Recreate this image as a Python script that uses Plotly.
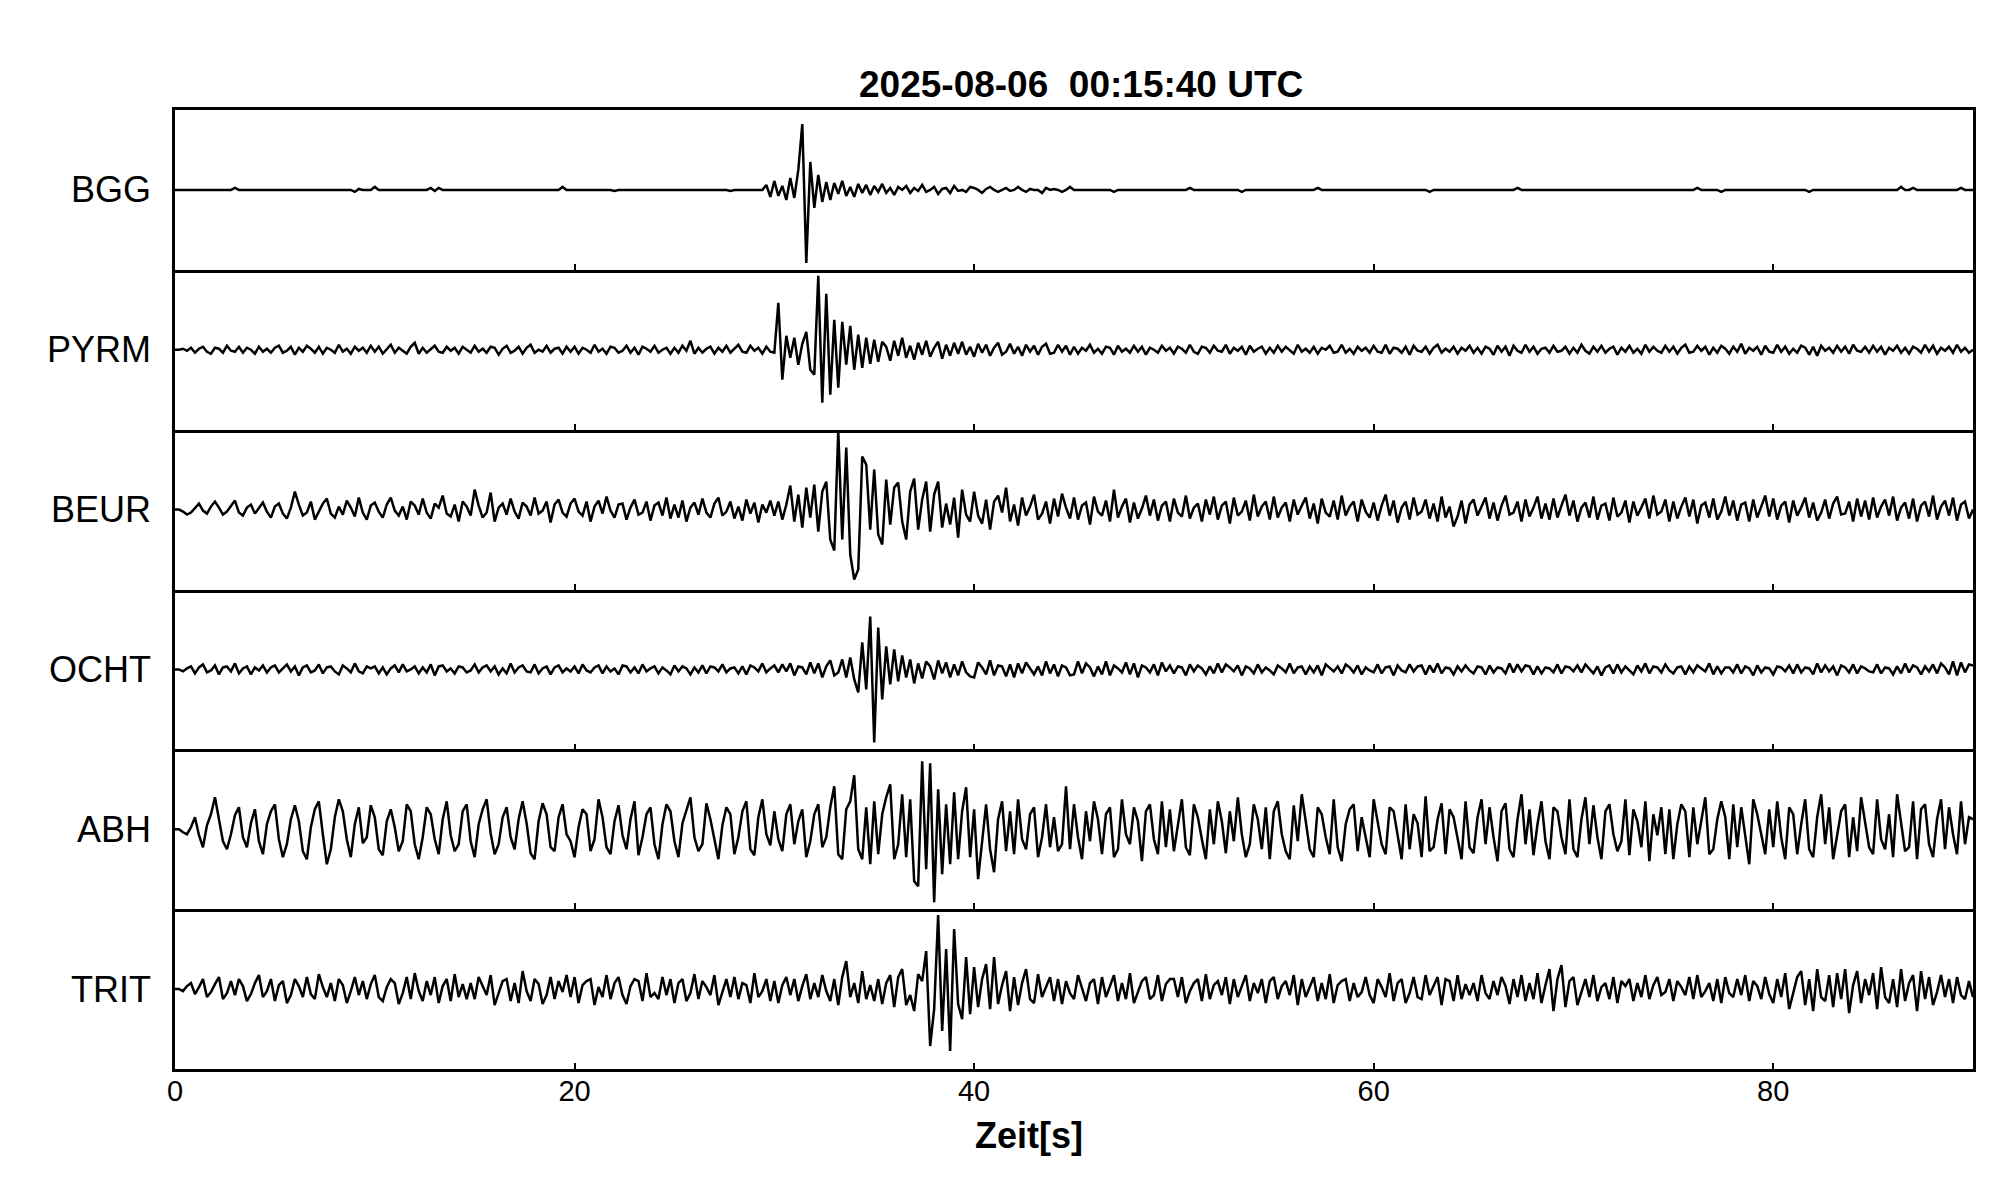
import plotly.graph_objects as go
from plotly.subplots import make_subplots

TITLE = "2025-08-06  00:15:40 UTC"
X_TITLE = "Zeit[s]"
STATIONS = ["BGG", "PYRM", "BEUR", "OCHT", "ABH", "TRIT"]
X_TICKS = [0, 20, 40, 60, 80]
DT = 0.2          # seconds between samples
ROW_SPAN = 5.0    # seconds covered by one row of samples

# amplitudes in display units (panel half-height = 80); one row = 5 s
BGG = [
    [0, 0, 0, 0, 0,  0, 0, 0, 0, 0,  0, 0, 0, 0, 0,  2, 0, 0, 0, 0,  0, 0, 0, 0, 0],
    [0, 0, 0, 0, 0,  0, 0, 0, 0, 0,  0, 0, 0, 0, 0,  0, 0, 0, 0, 0,  -2, 1, 0, 0, 0],
    [3, 0, 0, 0, 0,  0, 0, 0, 0, 0,  0, 0, 0, 0, 2,  -1, 2, 0, 0, 0,  0, 0, 0, 0, 0],
    [0, 0, 0, 0, 0,  0, 0, 0, 0, 0,  0, 0, 0, 0, 0,  0, 0, 0, 0, 0,  0, 0, 3, 0, 0],
    [0, 0, 0, 0, 0,  0, 0, 0, 0, 0,  -1, 0, 0, 0, 0,  0, 0, 0, 0, 0,  0, 0, 0, 0, 0],
    [0, 0, 0, 0, 0,  0, 0, 0, 0, 0,  0, 0, 0, 0, -1,  0, 0, 0, 0, 0,  0, 0, 0, 5, -7],
    [9, -6, 4, -10, 12,  -8, 20, 66, -73, 28,  -18, 15, -12, 8, -10,  7, -4, 9, -6, 3,  -7, 6, -3, 5, -5],
    [4, -2, 6, -3, 2,  -5, 3, 0, 4, -3,  2, -1, 5, -2, 0,  3, -4, 1, 2, -3,  4, -1, 0, -2, 3],
    [2, 0, -3, 1, 3,  0, -2, 0, 2, -1,  0, 3, 0, -2, 1,  0, 0, -3, 2, 0,  1, 0, -2, 0, 3],
    [0, 0, 0, 0, 0,  0, 0, 0, 0, 0,  -2, 0, 0, 0, 0,  0, 0, 0, 0, 0,  0, 0, 0, 0, 0],
    [0, 0, 0, 0, 2,  0, 0, 0, 0, 0,  0, 0, 0, 0, 0,  0, 0, -2, 0, 0,  0, 0, 0, 0, 0],
    [0, 0, 0, 0, 0,  0, 0, 0, 0, 0,  0, 2, 0, 0, 0,  0, 0, 0, 0, 0,  0, 0, 0, 0, 0],
    [0, 0, 0, 0, 0,  0, 0, 0, 0, 0,  0, 0, 0, 0, -2,  0, 0, 0, 0, 0,  0, 0, 0, 0, 0],
    [0, 0, 0, 0, 0,  0, 0, 0, 0, 0,  0, 2, 0, 0, 0,  0, 0, 0, 0, 0,  0, 0, 0, 0, 0],
    [0, 0, 0, 0, 0,  0, 0, 0, 0, 0,  0, 0, 0, 0, 0,  0, 0, 0, 0, 0,  0, 0, 0, 0, 0],
    [0, 0, 0, 0, 0,  0, 2, 0, 0, 0,  0, 0, -2, 0, 0,  0, 0, 0, 0, 0,  0, 0, 0, 0, 0],
    [0, 0, 0, 0, 0,  0, 0, 0, 0, -2,  0, 0, 0, 0, 0,  0, 0, 0, 0, 0,  0, 0, 0, 0, 0],
    [0, 0, 0, 0, 0,  0, 0, 3, 0, 0,  2, 0, 0, 0, 0,  0, 0, 0, 0, 0,  0, 0, 2, 0, 0],
    [0],
]

PYRM = [
    [0, 0, 1, -1, 2,  -3, 1, 3, -2, -4,  2, 1, -3, 4, -1,  -2, 3, -3, 2, 0,  -4, 3, -2, 1, -3],
    [2, 4, -3, -1, 3,  -5, 2, -2, 4, 1,  -3, 3, -4, 2, 0,  -3, 5, -2, 1, -4,  3, -1, 2, -3, 4],
    [-2, 3, -4, 1, 5,  -3, 2, -1, -4, 3,  7, -4, 2, -3, 1,  4, -2, -3, 3, -1,  2, -4, 3, 0, -3],
    [4, -2, 1, -3, 3,  2, -5, 1, 4, -3,  -1, 3, -4, 2, 5,  -3, 0, -2, 4, -3,  1, 2, -4, 3, -2],
    [3, -4, 2, 0, -3,  5, -2, 1, -4, 3,  2, -3, -1, 4, -3,  2, -5, 3, 1, -2,  4, -3, 0, 2, -4],
    [2, -3, 4, -1, 9,  -4, 2, -3, 1, 3,  -4, 2, -2, 4, -3,  1, 5, -2, -3, 4,  -1, 2, -4, 3, -2],
    [-3, 47, -30, 14, -8,  12, -15, 6, 18, -20,  -25, 74, -53, 56, -45,  30, -38, 28, -15, 24,  -20, 15, -18, 12, -14],
    [10, -12, 8, 3, -11,  9, -6, 12, -8, 4,  -10, 7, -5, 9, -7,  2, 8, -9, 5, -6,  7, -4, 8, -5, 3],
    [-7, 6, -3, 5, -6,  2, 7, -5, -2, 6,  -4, 3, -6, 5, -2,  4, -5, 3, 6, -4,  -3, 5, -2, 4, -5],
    [3, -4, 2, -1, 5,  -3, 1, -4, 3, 2,  -5, 4, -2, 1, -3,  4, -2, 3, -5, 2,  0, -3, 4, -1, 2],
    [-4, 3, 1, -3, 5,  -2, -4, 3, 2, -3,  4, -1, -2, 5, -4,  2, -1, 3, -5, 4,  -2, 1, 3, -4, 2],
    [-3, 4, -2, 3, -1,  -4, 5, -2, 1, -3,  3, -4, 2, 0, 4,  -3, -2, 5, -3, 1,  -4, 3, -1, 2, -3],
    [4, -2, -3, 5, -4,  2, 1, -3, 3, -5,  4, -1, -2, 3, -4,  2, 5, -3, 1, -2,  3, -4, 2, -1, 4],
    [-3, 2, -4, 3, 1,  -5, 4, -2, 3, -6,  4, -1, -3, 5, -2,  3, -4, 1, 2, -3,  4, -2, -1, 3, -4],
    [2, -3, 5, -1, -4,  3, -2, 4, -3, 1,  3, -5, 2, -2, 4,  -3, 1, -4, 5, -2,  3, -1, -3, 4, -2],
    [3, -4, 2, 5, -3,  -2, 4, -1, 3, -5,  2, -3, 4, 1, -4,  3, -2, 6, -4, 2,  -1, 3, -5, 4, -2],
    [-3, 5, -2, 3, -4,  1, -3, 4, 2, -5,  3, -6, 4, -1, 2,  -3, 4, -2, 3, -4,  5, -1, -2, 3, -3],
    [4, -2, 3, -5, 2,  -1, 4, -3, 2, -4,  3, 1, -3, 5, -2,  4, -4, 2, -1, 3,  -3, 5, -2, 2, -3],
    [0],
]

BEUR = [
    [0, 0, -2, -5, -3,  2, 6, -1, -4, 3,  8, 2, -5, -2, 4,  9, -3, -6, 2, 5,  -4, 1, 7, -2, -8],
    [3, 6, -4, -9, 2,  18, 5, -6, -3, 8,  -10, -2, 6, 11, -4,  -8, 3, -5, 9, 2,  -7, 12, -3, -10, 4],
    [7, -2, -8, 5, 12,  -1, -6, 3, -10, 8,  4, -5, 11, -3, -9,  6, 2, 14, -4, -7,  5, -12, 8, 3, -6],
    [20, 4, -8, -3, 17,  -12, 2, 6, -5, 11,  -2, -9, 7, 3, -6,  12, -4, -1, 8, -13,  5, 10, -3, -7, 6],
    [11, -2, -6, 8, -12,  3, 9, -4, 13, -1,  -8, 5, 6, -10, 2,  10, -5, -3, 8, -11,  4, 7, -6, 12, -9],
    [5, -8, 9, -12, 2,  7, -5, 11, -3, -8,  6, 12, -6, -2, 8,  -9, 3, -11, 10, -4,  7, -13, 5, -3, 9],
    [-6, 8, -10, 5, 24,  -12, 15, -18, 22, -8,  25, -22, 18, 28, -30,  -41, 79, -30, 62, -45,  -70, -60, 53, 45, -20],
    [40, -25, -35, 30, -15,  22, 27, -12, -30, 18,  31, -20, 10, 28, -22,  15, 28, -18, 6, -15,  12, -28, 20, -5, -12],
    [18, -6, -14, 10, -20,  8, 14, -3, 22, -12,  5, -16, 12, -6, 3,  15, -10, -4, 8, -14,  11, -7, 16, 2, -9],
    [12, -10, 4, 7, -15,  13, -2, -6, 9, -12,  20, -8, 3, 11, -13,  7, -9, 1, 14, -6,  10, -11, 4, 8, -12],
    [11, -3, -7, 14, -9,  2, 6, -12, 10, -5,  13, -10, 4, 8, -14,  12, -6, -2, 9, -11,  15, -7, 3, 8, -10],
    [13, -8, 2, 7, -12,  10, -5, 4, 12, -9,  6, -14, 11, -3, -7,  9, -10, 14, -6, 3,  8, -12, 10, -2, -8],
    [7, -11, 4, 15, -6,  9, -13, 2, 8, -10,  12, -5, -2, 10, -9,  6, -12, 13, -8, 3,  -17, -7, 9, -14, 5],
    [10, -6, 3, 12, -9,  7, -11, 4, 14, -5,  -3, 8, -12, 10, -7,  2, 13, -9, 6, -10,  11, -8, 4, 15, -6],
    [9, -12, 2, 7, -8,  13, -10, 4, 6, -11,  12, -7, -3, 9, -13,  8, -6, 2, 11, -9,  14, -5, -2, 10, -12],
    [8, -9, 3, 12, -7,  10, -14, 4, 7, -8,  11, -10, -2, 13, -6,  9, -11, 5, 7, -12,  10, -8, 3, 14, -7],
    [11, -10, 4, 8, -13,  9, -6, 2, 12, -8,  7, -11, -3, 10, -9,  6, 13, -5, -4, 8,  -12, 11, -7, 9, -10],
    [12, -8, 3, 10, -6,  13, -11, 2, 7, -9,  11, -12, 4, 8, -7,  14, -10, 3, 9, -6,  12, -11, 5, 8, -9],
    [0],
]

OCHT = [
    [0, 0, -2, 1, 3,  -4, 2, 5, -3, -1,  4, -5, 2, 3, -2,  6, -4, 1, 3, -5,  2, -1, 4, -3, 2],
    [4, -3, 1, 5, -2,  3, -6, 2, 4, -3,  -1, 5, -4, 2, 3,  -2, -5, 4, 1, -3,  6, -2, -4, 3, 1],
    [3, -4, 2, -5, 1,  4, -3, 5, -2, 0,  3, -4, 2, -3, 5,  -6, 3, 4, -2, 1,  -4, 3, 2, -3, -1],
    [5, -3, 2, 4, -2,  3, -5, 1, -4, 6,  -3, 2, 4, -2, -3,  5, -4, 1, 3, -5,  2, 4, -3, 1, -2],
    [3, -4, 5, -1, -3,  2, 4, -4, 3, -2,  1, -5, 4, 3, -3,  2, -4, 5, -2, 1,  3, -4, 2, -1, -5],
    [4, -2, 3, 1, -5,  2, -3, 4, -4, 3,  2, -2, 5, -3, 1,  2, -4, 3, -5, 4,  2, -2, 6, -3, 1],
    [4, -3, 5, -2, 6,  -6, 3, 2, -5, 7,  -4, 6, -8, 3, 9,  -6, -3, 10, -8, 12,  -10, -23, 27, -20, 53],
    [-73, 42, -30, 23, -15,  20, -12, 14, -8, 10,  -14, 6, -9, 8, 3,  -10, 9, -4, 7, -8,  5, -6, 8, -3, -7],
    [-8, 7, 2, -5, 9,  -6, 4, 3, -7, 5,  -8, 6, -4, 7, 1,  -5, 3, -6, 8, -4,  5, -7, 4, 2, -6],
    [-5, 8, -4, 6, 2,  -7, 3, -5, 8, -6,  4, 1, -3, 7, -5,  6, -8, 4, 2, -3,  5, -6, 7, -2, 4],
    [-4, 3, 2, -6, 5,  -2, 4, 1, -5, 3,  -4, 6, -3, 5, 2,  -2, 4, -6, 3, 1,  -4, 5, -3, 2, -1],
    [-5, 4, 1, -3, 6,  -4, 2, 3, -5, 3,  -3, 4, -6, 5, 1,  -2, 3, -4, 5, 2,  -3, 4, -5, 2, -1],
    [-3, 5, -4, 2, 3,  -6, 4, -1, -3, 5,  -2, 3, 4, -5, 4,  -3, 6, -4, 2, 1,  -5, 3, -2, 4, -1],
    [-4, 3, 2, -5, 4,  -3, 2, 1, -4, 6,  -3, 5, -2, 4, 3,  -5, 3, -4, 2, 1,  -3, 5, -4, 3, 2],
    [-2, 4, -3, 5, 1,  -4, 3, -6, 2, 4,  -4, 5, -3, 3, -1,  -5, 4, -2, 6, -4,  3, 2, -3, 5, -1],
    [-4, 2, 3, -5, 3,  -3, 4, 1, -2, 6,  -5, 3, -4, 2, 2,  -3, 5, -4, 3, 1,  -6, 4, -3, 2, 1],
    [-5, 3, 2, -2, 4,  -4, 5, -3, 2, 1,  -5, 6, -3, 4, -2,  3, -6, 4, 2, -3,  5, -4, 3, 1, -2],
    [-3, 5, -4, 2, 1,  -5, 3, -4, 6, -3,  4, 2, -5, 3, -2,  5, -4, 6, 2, -5,  8, -6, 7, -3, 5],
    [4],
]

ABH = [
    [0, 0, -3, -5, 2,  12, -6, -18, 4, 15,  32, 8, -12, -20, -5,  14, 22, -8, -18, 6,  20, -12, -25, 5, 18],
    [25, -10, -28, -15, 10,  24, 8, -22, -30, 2,  20, 28, -5, -35, -20,  12, 30, 18, -10, -28,  5, 22, -14, -8, 24],
    [12, -20, -26, 8, 20,  2, -22, -12, 25, 18,  -15, -30, -8, 22, 15,  -10, -25, 10, 28, -6,  -22, -15, 18, 25, -12],
    [-28, 5, 20, 30, -4,  -25, -15, 12, 22, -8,  -20, 10, 28, 6, -24,  -30, 8, 26, 15, -18,  -22, 12, 25, -5, -12],
    [-28, 2, 20, 15, -22,  -10, 30, 12, -18, -25,  8, 24, -6, -20, 10,  28, -26, -8, 15, 22,  -15, -30, 5, 25, 18],
    [-12, -28, 6, 20, 32,  -8, -22, -15, 26, 10,  -10, -30, 4, 22, 15,  -25, -8, 18, 28, -20,  -26, 12, 30, -5, -16],
    [18, -10, -22, 15, 25,  -15, 8, 20, -28, -12,  15, 25, -18, -8, 22,  43, -25, -30, 20, 28,  54, -20, -30, 22, -35],
    [28, -25, 15, 32, 45,  -30, -15, 35, -28, 30,  -52, -57, 68, -40, 66,  -73, 40, -45, 25, -35,  37, -30, 18, 42, -28],
    [20, -50, -15, 25, -20,  -43, 10, 28, -22, 18,  -25, 30, -10, -20, 15,  22, -28, -8, 25, -18,  12, -22, -15, 43, -20],
    [25, -8, -30, 18, -12,  28, 10, -25, 15, 22,  -28, -20, 30, -5, -15,  22, 8, -32, 18, 25,  -10, -25, 28, -18, 20],
    [-22, 5, 30, -18, -26,  25, 12, -10, -30, 20,  -15, 28, 8, -24, 18,  -12, 32, -5, -28, -15,  25, 10, -20, 22, -30],
    [18, 28, -5, -22, -30,  24, -12, 35, 8, -20,  -28, 22, 15, -8, -25,  30, -18, -32, 5, 20,  25, -22, 12, -10, -28],
    [30, 8, -15, -25, 22,  18, -8, -30, 25, -20,  15, 6, -28, 33, -22,  -18, 10, 26, -25, 20,  12, -10, -30, 28, -18],
    [-24, 12, 30, -15, 22,  -8, -32, 18, 26, -20,  -28, 10, 35, -15, 20,  -26, 5, 28, -12, -30,  22, 18, -8, -25, 30],
    [-20, -28, 10, 32, -15,  24, -8, -30, 18, 25,  -5, -22, -12, 30, -26,  20, 8, -18, 28, -32,  15, -6, 22, -25, 20],
    [-30, 5, 25, 18, -28,  22, -15, 8, 32, -25,  -20, 10, 28, 12, -30,  25, -18, 22, -8, -35,  30, 15, -5, -25, 20],
    [-18, 28, -8, -30, 22,  15, -25, 5, 30, -20,  -28, 12, 35, -15, 22,  -30, -5, 18, 25, -28,  12, -22, 32, 8, -18],
    [-25, 30, -10, -20, 15,  -28, 35, 8, -22, -18,  28, -30, 20, 25, -15,  -28, 10, 30, -20, 22,  -5, -25, 28, -15, 12],
    [10],
]

TRIT = [
    [0, 0, -2, 3, 6,  -5, 2, 10, -8, -3,  5, 12, -10, -4, 8,  -6, 10, 3, -12, -5,  6, 14, -8, -2, 10],
    [-12, 4, 8, -14, -6,  10, 3, -8, 12, -5,  -10, 15, 2, -8, 6,  -12, 10, 4, -14, -2,  12, -6, 8, -10, 5],
    [14, -8, -12, 2, 10,  6, -15, -4, 12, -10,  16, -2, -12, 8, -6,  12, -14, 3, 10, -12,  15, -8, 5, -10, 6],
    [-10, 12, 2, -6, 14,  -16, -4, 8, 10, -12,  6, -14, 18, -2, -12,  10, 5, -15, -6, 12,  -10, 8, -3, 14, -8],
    [12, -14, 4, 8, 10,  -16, 2, -8, 14, -10,  6, 12, -6, -15, 3,  10, 8, -12, 16, -8,  -4, -10, 12, -6, 10],
    [-14, 6, 10, -12, -4,  15, -10, 8, 2, -6,  14, -16, -3, 10, -8,  12, -10, 6, 4, -14,  16, -8, -2, 10, -12],
    [8, -14, 4, 12, -6,  10, -12, 3, 15, -10,  6, -8, 14, -2, -12,  10, -16, 12, 28, -8,  6, -14, 18, -10, 4],
    [-12, 10, -15, 6, 14,  -18, 12, 20, -16, -6,  -22, 15, 8, 38, -57,  -20, 74, -42, 40, -62,  60, -15, -30, 32, -25],
    [22, -18, 10, 25, -20,  32, -15, 4, 18, -22,  12, -16, 6, 20, -10,  -14, 15, -8, 3, 12,  -12, 10, -15, 8, -4],
    [-10, 14, 2, -12, 6,  10, -15, 12, -8, 3,  14, -12, 6, -10, 16,  -14, -2, 8, 12, -10,  -6, 14, -12, 5, 10],
    [10, -8, 12, -14, -2,  6, 10, -12, 15, -10,  4, 8, -6, 12, -15,  10, -8, 3, 14, -12,  6, -4, 10, -14, 8],
    [12, -10, 3, 8, -6,  14, -16, 10, -8, 2,  12, -12, 6, -10, 15,  -14, 4, 8, 10, -12,  6, -8, -3, 12, -6],
    [-14, 10, 2, -8, 16,  -12, 6, 10, -14, -4,  12, -8, -10, 14, -6,  3, 12, -16, 10, 8,  -12, 14, -10, 5, -6],
    [6, -12, 14, -4, -10,  8, -6, 12, 3, -15,  10, -8, 14, -12, 6,  -10, 16, -14, 4, 20,  -22, 10, 24, -18, 8],
    [12, -16, -4, 10, -8,  14, -12, 2, 6, -10,  12, -14, 8, 3, 10,  -12, 6, -8, 14, -10,  4, 12, -6, -3, 10],
    [-12, 8, 2, -6, 12,  -10, 14, -8, -2, 6,  -12, 10, -14, 12, -4,  -8, 10, -6, 14, -12,  8, 3, -10, 12, -5],
    [-14, 10, -8, 16, -20,  -4, 12, 18, -16, 10,  -22, 20, -8, -12, 14,  -18, 16, -10, 20, -24,  4, 18, -14, 10, -6],
    [16, -20, 22, -8, -14,  10, -18, 20, -12, 6,  14, -22, 18, -10, 12,  -16, -3, 14, -8, 10,  -14, 12, -6, -10, 8],
    [-8],
]

TRACES = [BGG, PYRM, BEUR, OCHT, ABH, TRIT]

FONT = "Liberation Sans, Arial, Helvetica, sans-serif"
N = len(STATIONS)


def unroll(rows):
    """Attach a sample time to every value: row r starts at r*ROW_SPAN s."""
    t, y = [], []
    for r, row in enumerate(rows):
        for j, v in enumerate(row):
            t.append(r * ROW_SPAN + j * DT)
            y.append(v)
    return t, y


fig = make_subplots(rows=N, cols=1, shared_xaxes=True, vertical_spacing=0)

for i, (name, rows) in enumerate(zip(STATIONS, TRACES), start=1):
    t, vals = unroll(rows)
    fig.add_trace(
        go.Scatter(x=t, y=vals, mode="lines", name=name,
                   line=dict(color="black", width=2.5), showlegend=False,
                   hoverinfo="skip"),
        row=i, col=1,
    )
    fig.update_xaxes(
        range=[0, 90], showline=True, linecolor="black", linewidth=2.5,
        mirror=(i == 1), ticks="inside", ticklen=6, tickwidth=2,
        tickcolor="black", tickvals=X_TICKS, showticklabels=(i == N),
        ticklabelstandoff=-6,
        showgrid=False, zeroline=False,
        tickfont=dict(family=FONT, size=29, color="black"),
        row=i, col=1,
    )
    fig.update_yaxes(
        range=[-80, 80], showline=True, linecolor="black", linewidth=2.5,
        mirror=True, ticks="", showticklabels=False, showgrid=False,
        zeroline=False, row=i, col=1,
    )
    yref = "y" if i == 1 else f"y{i}"
    fig.add_annotation(
        text=name, xref="paper", x=0, xshift=-22, xanchor="right",
        yref=yref, y=0, yanchor="middle", showarrow=False,
        font=dict(family=FONT, size=36, color="black"),
    )

fig.add_annotation(
    text=f"<b>{TITLE}</b>", xref="paper", x=0.504, xanchor="center",
    yref="paper", y=1.027, yanchor="middle", showarrow=False,
    font=dict(family=FONT, size=37, color="black"),
)
fig.add_annotation(
    text=f"<b>{X_TITLE}</b>", xref="paper", x=0.475, xanchor="center",
    yref="paper", y=-0.069, yanchor="middle", showarrow=False,
    font=dict(family=FONT, size=36, color="black"),
)

fig.update_layout(
    width=2005, height=1202,
    margin=dict(l=167, r=40, t=102, b=141),
    paper_bgcolor="white", plot_bgcolor="white",
    font=dict(family=FONT, color="black"),
)

fig.write_html("out.html")
